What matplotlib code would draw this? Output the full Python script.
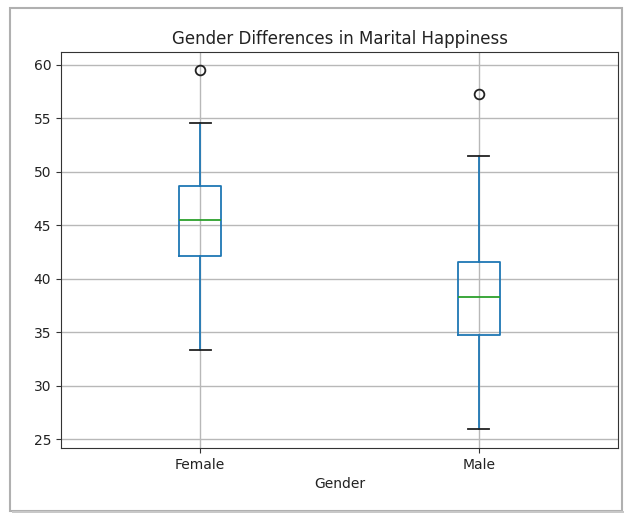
import matplotlib
matplotlib.use("Agg")
import matplotlib.pyplot as plt
from matplotlib.patches import Rectangle

categories = ["Female", "Male"]
whislo = [33.3, 25.9]
q1 = [42.1, 34.7]
med = [45.5, 38.3]
q3 = [48.7, 41.6]
whishi = [54.6, 51.5]
fliers = [[59.5], [57.3]]

W, H = 626, 515
fig = plt.figure(figsize=(W / 100, H / 100), dpi=100)
fig.patch.set_facecolor("white")
# screenshot frame
fig.patches.append(Rectangle((10 / W, 4 / H), (W - 14) / W, (H - 12) / H,
                             transform=fig.transFigure, fill=False,
                             edgecolor="#b0b0b0", linewidth=1.5))
fig.patches.append(Rectangle((12 / W, 2 / H), (W - 14) / W, 2 / H,
                             transform=fig.transFigure, facecolor="#c8c8c8",
                             edgecolor="none"))

ax = fig.add_axes([61 / W, (H - 448) / H, (618 - 61) / W, (448 - 52) / H])

stats = []
for i, c in enumerate(categories):
    stats.append(dict(label=c, whislo=whislo[i], q1=q1[i], med=med[i],
                      q3=q3[i], whishi=whishi[i], fliers=fliers[i]))

lw = 1.3
ax.bxp(stats, positions=[1, 2], widths=0.15,
       boxprops=dict(color="#1f77b4", linewidth=lw),
       whiskerprops=dict(color="#1f77b4", linewidth=lw),
       medianprops=dict(color="#2ca02c", linewidth=lw),
       capprops=dict(color="#222222", linewidth=lw),
       flierprops=dict(marker="o", markerfacecolor="none",
                       markeredgecolor="#222222", markersize=7,
                       markeredgewidth=1.3))
ax.set_xlim(0.5, 2.5)
ax.set_ylim(24.16, 61.2)
ax.grid(True, color="#b8b8b8", linewidth=1.0)
ax.set_axisbelow(True)
for s in ax.spines.values():
    s.set_color("#333333")
ax.set_title("Gender Differences in Marital Happiness", fontsize=12, color="#222222")
ax.set_xlabel("Gender", fontsize=10, color="#222222")
ax.tick_params(labelsize=10, labelcolor="#222222", color="#333333")

fig.savefig("out.png", dpi=100)
